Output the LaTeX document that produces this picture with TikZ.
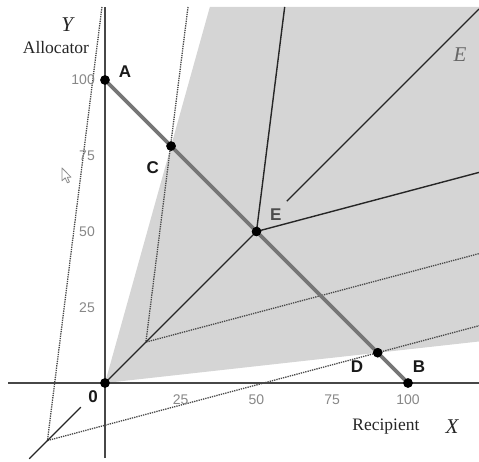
\documentclass[tikz,border=0pt]{standalone}
\usepackage{fontspec}
\setmainfont{Liberation Serif}
\setsansfont{Liberation Sans}
\definecolor{conefill}{RGB}{213,213,213}
\definecolor{ink}{RGB}{38,38,38}
\definecolor{ticktext}{RGB}{135,135,135}
\definecolor{budget}{RGB}{118,118,118}
\tikzset{
  axisline/.style={draw=ink!85, line width=1.8pt},
  rayline/.style={draw=ink, line width=1.4pt},
  dotline/.style={draw=ink!85, line width=1.3pt, densely dotted},
  budgetline/.style={draw=budget, line width=3.6pt},
  dotpt/.style={circle, fill=black, inner sep=0pt, minimum size=9.5pt},
  ptlab/.style={font=\sffamily\bfseries\fontsize{17}{17}\selectfont, text=black!90},
  ticklab/.style={font=\sffamily\fontsize{14}{14}\selectfont, text=ticktext},
  axtext/.style={font=\fontsize{17.5}{17.5}\selectfont, text=ink},
  varlab/.style={font=\itshape\fontsize{21}{21}\selectfont, text=ink}
}
\begin{document}
\begin{tikzpicture}[x=3.03pt,y=3.03pt]
\useasboundingbox (-34.653,-25.743) rectangle (123.432,126.403);
% frame coordinates
\coordinate (GTL) at (34.6,124.1);
\coordinate (GTR) at (123.432,124.1);
\coordinate (GBR) at (123.432,13.7);
\coordinate (O0) at (0,0);
% feasible cone
\fill[conefill] (O0) -- (GTL) -- (GTR) -- (GBR) -- cycle;
% translated dotted cones
\coordinate (P1) at (-19,-19);
\coordinate (P1u) at (-1,124.1);
\coordinate (P1l) at (123.432,18.9);
\coordinate (P2) at (13.5,13.5);
\coordinate (P2u) at (27.4,124.1);
\coordinate (P2l) at (123.432,42.7);
\draw[dotline] (P1u) -- (P1) -- (P1l);
\draw[dotline] (P2u) -- (P2) -- (P2l);
% axes
\coordinate (Yb) at (0,-24.8);
\coordinate (Yt) at (0,124.1);
\coordinate (Xl) at (-32,0);
\coordinate (Xr) at (123.432,0);
\draw[axisline] (Yb) -- (Yt);
\draw[axisline] (Xl) -- (Xr);
% points
\node[dotpt] (O) at (0,0) {};
\node[dotpt] (A) at (0,100) {};
\node[dotpt] (B) at (100,0) {};
\node[dotpt] (C) at (21.8,78.2) {};
\node[dotpt] (D) at (90,10) {};
\node[dotpt] (E) at (50,50) {};
% rays
\coordinate (Eu) at (59.3,124.1);
\coordinate (El) at (123.432,69.5);
\coordinate (Ds) at (60,60);
\coordinate (De) at (123.432,123.432);
\coordinate (Ls) at (-8,-8);
\coordinate (Le) at (-25,-25);
\draw[rayline] (O.center) -- (E.center);
\draw[rayline] (E.center) -- (Eu);
\draw[rayline] (E.center) -- (El);
\draw[rayline] (Ds) -- (De);
\draw[rayline] (Ls) -- (Le);
% budget line
\draw[budgetline] (A.center) -- (B.center);
% redraw dots on top
\foreach \p in {O,A,B,C,D,E} \fill[black] (\p.center) circle[radius=4.7pt];
% point labels
\node[ptlab] (lA) at (6.6,102.6) {A};
\node[ptlab] (lC) at (15.8,71) {C};
\node[ptlab, text=black!70] (lE) at (56.4,55.4) {E};
\node[ptlab] (lD) at (83.2,5.3) {D};
\node[ptlab] (lB) at (103.6,5.3) {B};
\node[ptlab] (lO) at (-3.96,-4.6) {0};
% tick labels
\node[ticklab, anchor=east] (y100) at (-2.2,100) {100};
\node[ticklab, anchor=east] (y75) at (-2.2,75) {75};
\node[ticklab, anchor=east] (y50) at (-2.2,50) {50};
\node[ticklab, anchor=east] (y25) at (-2.2,25) {25};
\node[ticklab] (x25) at (25,-5.6) {25};
\node[ticklab] (x50) at (50,-5.6) {50};
\node[ticklab] (x75) at (75,-5.6) {75};
\node[ticklab] (x100) at (100,-5.6) {100};
% axis labels
\node[varlab] (vY) at (-12.5,118.2) {Y};
\node[axtext] (tAl) at (-16.2,110.6) {Allocator};
\node[axtext] (tRe) at (92.7,-14.5) {Recipient};
\node[varlab] (vX) at (114.5,-14.5) {X};
\node[varlab, text=black!60] (vE) at (117.2,108.3) {E};
% mouse pointer
\begin{scope}[shift={(-14.2,71)}, x=1pt, y=-1pt]
\draw[black!45, line width=0.8pt, line join=round, fill=white]
  (0,0) -- (0,13) -- (3.2,10) -- (5.5,15) -- (7.5,14) -- (5.2,9.3) -- (9,9.3) -- cycle;
\end{scope}
\end{tikzpicture}
\end{document}
